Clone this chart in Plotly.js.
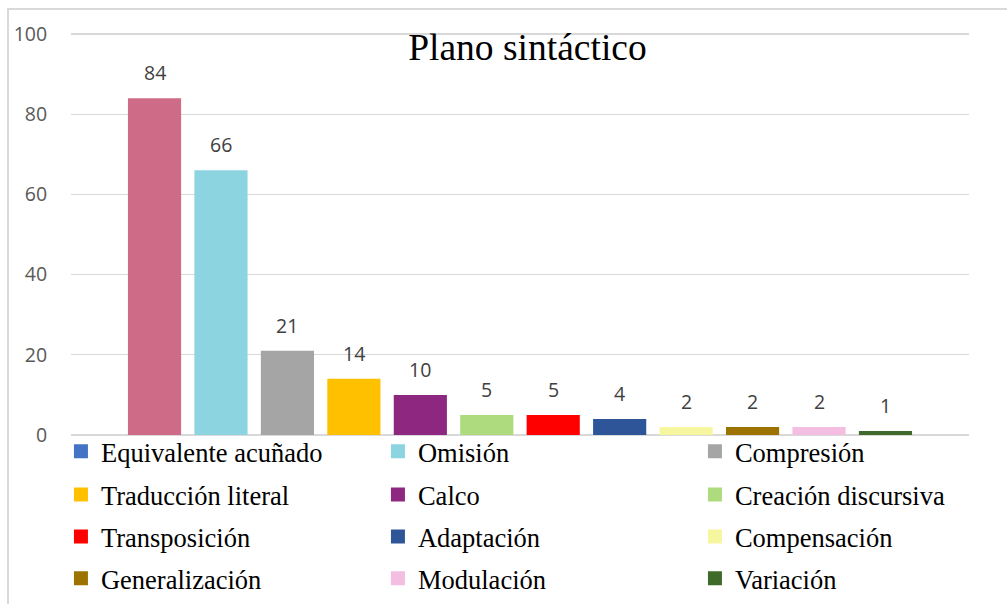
<!DOCTYPE html>
<html>
<head>
<meta charset="utf-8">
<script src="https://cdn.plot.ly/plotly-3.0.1.min.js"></script>
<style>
  html, body { margin: 0; padding: 0; background: #ffffff; }
  #frame { position: absolute; left: 7px; top: 8px; width: 1200px; height: 800px;
           border-left: 2px solid #d9d9d9; border-top: 2px solid #d9d9d9; }
  #chart { position: absolute; left: 0; top: 0; width: 1007px; height: 604px; }
</style>
</head>
<body>
<div id="frame"></div>
<div id="chart"></div>
<script>
const categories = ["Equivalente acuñado", "Omisión", "Compresión", "Traducción literal", "Calco",
  "Creación discursiva", "Transposición", "Adaptación", "Compensación", "Generalización",
  "Modulación", "Variación"];
const values = [84, 66, 21, 14, 10, 5, 5, 4, 2, 2, 2, 1];
const barColors = ["#CE6B86", "#8DD4E1", "#A5A5A5", "#FFC000", "#8E2780", "#ADDB7E",
  "#FF0000", "#2E5597", "#F6F69E", "#9C7300", "#F4BEE2", "#3F6B2A"];
const legendColors = ["#4472C4", "#8DD4E1", "#A5A5A5", "#FFC000", "#8E2780", "#ADDB7E",
  "#FF0000", "#2E5597", "#F6F69E", "#9C7300", "#F4BEE2", "#3F6B2A"];
const yTicks = [0, 20, 40, 60, 80, 100];
const chartTitle = "Plano sintáctico";

const legendCols = 3;
const legendRowY = [-0.036, -0.1425, -0.2465, -0.3495];
const legendIds = legendRowY.map((_, r) => r === 0 ? "legend" : "legend" + (r + 1));

const traces = [{
  type: "bar",
  x: categories,
  y: values,
  marker: { color: barColors },
  showlegend: false,
  hoverinfo: "x+y"
}];
categories.forEach((c, i) => {
  traces.push({
    type: "scatter", mode: "markers",
    x: [null], y: [null], name: c,
    legend: legendIds[Math.floor(i / legendCols)],
    marker: { symbol: "square", size: 14, color: legendColors[i] },
    showlegend: true
  });
});

const annotations = categories.map((c, i) => ({
  x: c, y: values[i], xref: "x", yref: "y",
  text: String(values[i]), showarrow: false,
  yanchor: "middle", yshift: 25.5,
  font: { family: "Open Sans, sans-serif", size: 19.5, color: "#404040" }
}));

const layout = {
  width: 1007, height: 604,
  paper_bgcolor: "rgba(0,0,0,0)", plot_bgcolor: "rgba(0,0,0,0)",
  margin: { l: 71, r: 38, t: 32, b: 167, autoexpand: false },
  title: {
    text: chartTitle, xref: "container", yref: "container",
    x: 0.5238, xanchor: "center", y: 0.922, yanchor: "middle",
    font: { family: "Liberation Serif, Times New Roman, serif", size: 37.5, color: "#000000" }
  },
  barmode: "overlay", bargap: 0.2,
  xaxis: {
    type: "category", range: [-1.257, 12.257],
    showticklabels: false, showgrid: false, zeroline: false, showline: false, ticks: ""
  },
  yaxis: {
    range: [-0.5, 100.5], tickvals: yTicks, ticktext: yTicks.map(String),
    showgrid: true, gridcolor: "#d9d9d9", gridwidth: 1.4,
    zeroline: false, showline: false,
    ticks: "outside", ticklen: 19, tickcolor: "rgba(0,0,0,0)",
    tickfont: { family: "Open Sans, sans-serif", size: 19.5, color: "#595959" }
  },
  showlegend: true,
  annotations: annotations
};

legendIds.forEach((id, r) => {
  layout[id] = {
    orientation: "h", xref: "paper", yref: "paper",
    x: -0.0112, xanchor: "left", y: legendRowY[r], yanchor: "middle",
    entrywidth: 272, entrywidthmode: "pixels",
    font: { family: "Liberation Serif, Times New Roman, serif", size: 26.5, color: "#000000" },
    bgcolor: "rgba(0,0,0,0)", borderwidth: 0
  };
});

Plotly.newPlot("chart", traces, layout, { displayModeBar: false, staticPlot: true });
</script>
</body>
</html>
